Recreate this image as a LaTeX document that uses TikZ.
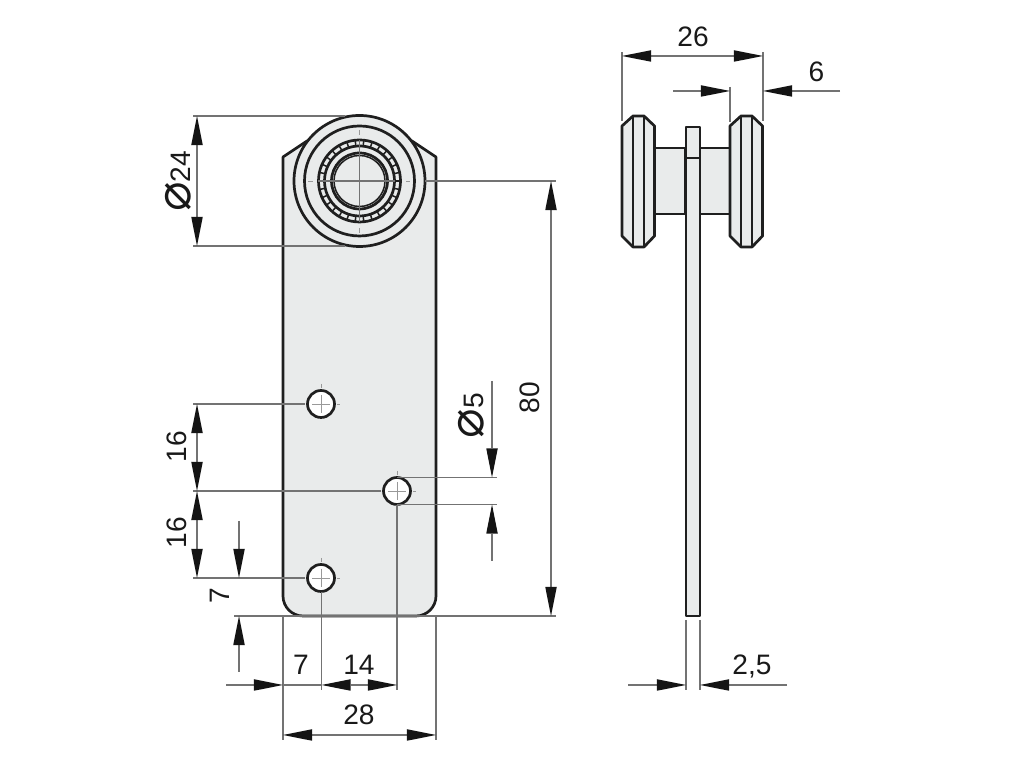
\documentclass[tikz,border=0pt]{standalone}
\usepackage{fontspec}
\setmainfont{Liberation Sans}
\newfontfamily\symfont{DejaVu Sans}
\usetikzlibrary{arrows.meta}
\tikzset{
	part/.style={draw=black!88, line width=0.027cm, line join=round, fill=plategray},
	edge/.style={draw=black!88, line width=0.027cm},
	thinline/.style={draw=black!55, line width=0.011cm},
	centerline/.style={draw=black!40, line width=0.008cm},
	dim/.style={thinline, -{Triangle[length=0.29cm, width=0.115cm, black!92, line width=0pt]}},
	dimboth/.style={thinline, {Triangle[length=0.29cm, width=0.115cm, black!92, line width=0pt]}-{Triangle[length=0.29cm, width=0.115cm, black!92, line width=0pt]}},
	label/.style={font=\fontsize{8}{8}\selectfont, text=black!90, inner sep=0pt}
}
\definecolor{plategray}{HTML}{E9EBEB}
\newcommand{\dia}{{\symfont\fontsize{14}{14}\selectfont ⌀}}
\begin{document}
\begin{tikzpicture}[x=0.01cm, y=-0.01cm]
	\useasboundingbox (0,0) rectangle (1024,768);
	% front view
	\draw [part] (283,300) [rounded corners=0.2cm] -- (283,616) -- (436,616) -- (436,300) [sharp corners] -- (436,157) -- (412,141) -- (307,141) -- (283,157) -- cycle;
	\draw [part] (359.5,181) circle [radius=65.5];
	\draw [edge] (359.5,181) circle [radius=55];
	\draw [edge] (359.5,181) circle [radius=41];
	\draw [edge] (359.5,181) circle [radius=35];
	\draw [edge] (359.5,181) circle [radius=28];
	\draw [edge, line width=0.015cm] (359.5,181) circle [radius=25.5];
	\foreach \a in {0,12,...,348} {
		\draw [edge, line width=0.015cm] (359.5,181) ++(\a:35) -- ++(\a:6);
	}
	\foreach \x/\y [count=\i] in {321/404, 397/491, 321/578} {
		\draw [part, fill=white] (\x,\y) circle [radius=13.5];
		\draw [centerline] (\x-9,\y) -- (\x+9,\y);
		\draw [centerline] (\x,\y-9) -- (\x,\y+9);
		\draw [centerline] (\x-19,\y) -- (\x-16,\y);
		\draw [centerline] (\x+16,\y) -- (\x+19,\y);
		\draw [centerline] (\x,\y-20) -- (\x,\y-16);
	}
	\draw [thinline] (318,181) -- (395,181);
	\draw [thinline] (359.5,140) -- (359.5,222);
	\draw [centerline] (308,181) -- (313,181);
	\draw [centerline] (406,181) -- (410,181);
	\draw [centerline] (359.5,130) -- (359.5,135);
	\draw [centerline] (359.5,228) -- (359.5,233);

	% side view
	\draw [part] (654,148) rectangle (685,214);
	\draw [part] (700,148) rectangle (730,214);
	\foreach \x in {622,730} {
		\draw [part] (\x,126) -- (\x+11,116) -- (\x+22,116) -- (\x+32.5,126) -- (\x+32.5,236) -- (\x+22,247) -- (\x+11,247) -- (\x,236) -- cycle;
		\draw [edge] (\x+11,116) -- (\x+11,247);
		\draw [edge] (\x+22,116) -- (\x+22,247);
	}
	\draw [part] (686,127) rectangle (700,616);
	\draw [edge] (686,158) -- (700,158);

	% extension lines
	\draw [thinline] (193,116) -- (345,116);
	\draw [thinline] (193,246) -- (345,246);
	\draw [thinline] (425,181) -- (556,181);
	\draw [thinline] (234,616) -- (556,616);
	\draw [thinline] (193,404) -- (305,404);
	\draw [thinline] (193,491) -- (381,491);
	\draw [thinline] (193,578) -- (305,578);
	\draw [thinline] (397,477.5) -- (497,477.5);
	\draw [thinline] (397,504.5) -- (497,504.5);
	\draw [thinline] (283,616) -- (283,740);
	\draw [thinline] (436,616) -- (436,740);
	\draw [thinline] (321.5,592) -- (321.5,690);
	\draw [thinline] (397,505) -- (397,690);
	\draw [thinline] (622,52) -- (622,121);
	\draw [thinline] (763,52) -- (763,121);
	\draw [thinline] (730,87) -- (730,122);
	\draw [thinline] (686,620) -- (686,690);
	\draw [thinline] (700,620) -- (700,690);

	% dimensions
	\draw [dimboth] (197,116) -- (197,246);
	\draw [dimboth] (551,181) -- (551,616);
	\draw [dimboth] (197,404) -- (197,491);
	\draw [dimboth] (197,491) -- (197,578);
	\draw [dim] (492,381) -- (492,477.5);
	\draw [dim] (492,561) -- (492,504.5);
	\draw [dim] (239,521) -- (239,578);
	\draw [dim] (239,672) -- (239,616);
	\draw [dim] (226,685) -- (283,685);
	\draw [dimboth] (321.5,685) -- (397,685);
	\draw [thinline] (283,685) -- (321.5,685);
	\draw [dimboth] (283,735) -- (436,735);
	\draw [dimboth] (622,56) -- (763,56);
	\draw [dim] (673,91) -- (730,91);
	\draw [dim] (840,91) -- (763,91);
	\draw [dim] (628,685) -- (686,685);
	\draw [dim] (787,685) -- (700,685);

	% labels
	\node [label, rotate=90] (dia24) at (178,181.5) {\dia 24};
	\node [label, rotate=90] (dia5) at (471,415.5) {\dia 5};
	\node [label, rotate=90] (len80) at (530,398) {80};
	\node [label, rotate=90] (up16) at (177,447) {16};
	\node [label, rotate=90] (low16) at (177,533) {16};
	\node [label, rotate=90] (up7) at (220,596) {7};
	\node [label] (left7) at (301,665) {7};
	\node [label] (mid14) at (359,665) {14};
	\node [label] (width28) at (359,715) {28};
	\node [label] (top26) at (693,37) {26};
	\node [label] (top6) at (816.5,72) {6};
	\node [label] (thick) at (752,666) {2,5};
\end{tikzpicture}
\end{document}
